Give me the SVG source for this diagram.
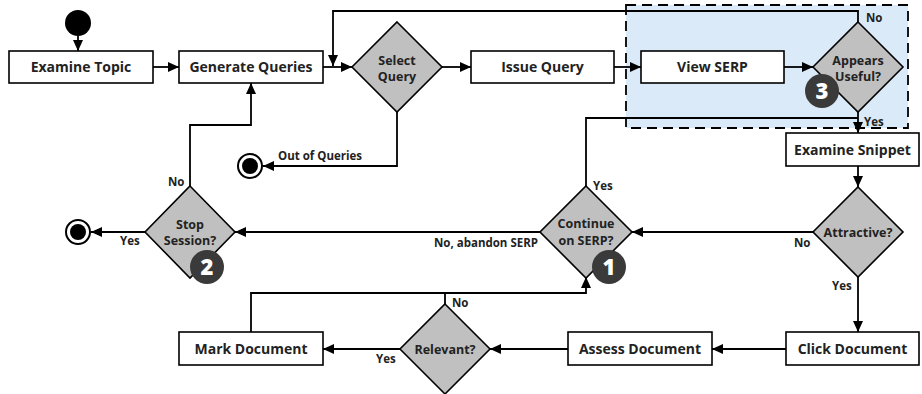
<svg xmlns="http://www.w3.org/2000/svg" width="922" height="394" viewBox="0 0 922 394">
<style>
.box{fill:#ffffff;stroke:#000;stroke-width:1.6}
.dia{fill:#c0c0c0;stroke:#000;stroke-width:1.6}
.t{font-family:"Open Sans","Liberation Sans",sans-serif;font-weight:700;font-size:14px;fill:#222;text-anchor:middle}
.d{font-family:"Open Sans","Liberation Sans",sans-serif;font-weight:700;font-size:12.5px;fill:#222;text-anchor:middle}
.l{font-family:"Open Sans","Liberation Sans",sans-serif;font-weight:700;font-size:11.5px;fill:#222}
.c{fill:none;stroke:#000;stroke-width:1.8}
.badge{fill:#3a3a3a}
.bn{font-family:"Open Sans","Liberation Sans",sans-serif;font-weight:800;font-size:22px;fill:#fff;text-anchor:middle}
</style>
<defs>
<marker id="ah" markerUnits="userSpaceOnUse" markerWidth="11" markerHeight="10" refX="11" refY="5" orient="auto">
<path d="M0,0 L11,5 L0,10 z" fill="#000"/>
</marker>
</defs>
<rect width="922" height="394" fill="#ffffff"/>
<g id="serp-region">
<rect x="626" y="5" width="282" height="123" fill="#dbeaf9" stroke="#000" stroke-width="1.8" stroke-dasharray="10,6"/>
</g>
<g id="connectors">
<path class="c" d="M78,36 V51" marker-end="url(#ah)"/>
<path class="c" d="M153,67 H179" marker-end="url(#ah)"/>
<path class="c" d="M323,67 H352" marker-end="url(#ah)"/>
<path class="c" d="M442,67 H471" marker-end="url(#ah)"/>
<path class="c" d="M614,67 H641" marker-end="url(#ah)"/>
<path class="c" d="M784,67 H813" marker-end="url(#ah)"/>
<path class="c" d="M858,22 V11 H333 V66" marker-end="url(#ah)"/>
<path class="c" d="M858,112 V133" marker-end="url(#ah)"/>
<path class="c" d="M586,186 V118 H858"/>
<path class="c" d="M858,166 V187" marker-end="url(#ah)"/>
<path class="c" d="M813,232 H632" marker-end="url(#ah)"/>
<path class="c" d="M540,232 H235" marker-end="url(#ah)"/>
<path class="c" d="M145,232 H91" marker-end="url(#ah)"/>
<path class="c" d="M190,186 V125 H251 V83" marker-end="url(#ah)"/>
<path class="c" d="M397,112 V166 H263" marker-end="url(#ah)"/>
<path class="c" d="M858,277 V332" marker-end="url(#ah)"/>
<path class="c" d="M786,349 H712" marker-end="url(#ah)"/>
<path class="c" d="M568,349 H490" marker-end="url(#ah)"/>
<path class="c" d="M400,349 H323" marker-end="url(#ah)"/>
<path class="c" d="M445,304 V293 H586 V277" marker-end="url(#ah)"/>
<path class="c" d="M251,332 V293 H445"/>
<text class="l" x="866" y="22">No</text>
<text class="l" x="864" y="126">Yes</text>
<text class="l" x="593" y="190">Yes</text>
<text class="l" x="538" y="247" text-anchor="end">No, abandon SERP</text>
<text class="l" x="794" y="247">No</text>
<text class="l" x="832" y="290">Yes</text>
<text class="l" x="452" y="307">No</text>
<text class="l" x="376" y="363">Yes</text>
<text class="l" x="120" y="245">Yes</text>
<text class="l" x="168" y="186">No</text>
<text class="l" x="278" y="160">Out of Queries</text>
</g>
<g id="start"><circle cx="78" cy="23" r="13" fill="#000"/></g>
<g id="examine-topic"><rect class="box" x="9" y="51" width="144" height="32"/><text class="t" x="81" y="72">Examine Topic</text></g>
<g id="generate-queries"><rect class="box" x="179" y="51" width="144" height="32"/><text class="t" x="251" y="72">Generate Queries</text></g>
<g id="select-query"><path class="dia" d="M397,22 L442,67 L397,112 L352,67 z"/><text class="d" x="397" y="65">Select</text><text class="d" x="397" y="81">Query</text></g>
<g id="issue-query"><rect class="box" x="471" y="51" width="143" height="32"/><text class="t" x="542.5" y="72">Issue Query</text></g>
<g id="view-serp"><rect class="box" x="641" y="51" width="143" height="32"/><text class="t" x="712.5" y="72">View SERP</text></g>
<g id="appears-useful"><path class="dia" d="M858,22 L903,67 L858,112 L813,67 z"/><text class="d" x="858" y="65">Appears</text><text class="d" x="858" y="81">Useful?</text><circle class="badge" cx="822" cy="91" r="17"/><text class="bn" x="822" y="99">3</text></g>
<g id="examine-snippet"><rect class="box" x="786" y="133" width="133" height="33"/><text class="t" x="852.5" y="154.5">Examine Snippet</text></g>
<g id="attractive"><path class="dia" d="M858,187 L903,232 L858,277 L813,232 z"/><text class="d" x="858" y="237">Attractive?</text></g>
<g id="continue-serp"><path class="dia" d="M586,186 L632,232 L586,278 L540,232 z"/><text class="d" x="586" y="228">Continue</text><text class="d" x="586" y="245">on SERP?</text><circle class="badge" cx="609" cy="267" r="17"/><text class="bn" x="609" y="275">1</text></g>
<g id="stop-session"><path class="dia" d="M190,186 L235,232 L190,278 L145,232 z"/><text class="d" x="190" y="229">Stop</text><text class="d" x="190" y="245">Session?</text><circle class="badge" cx="207" cy="267" r="17"/><text class="bn" x="207" y="275">2</text></g>
<g id="end-session"><circle cx="78" cy="232" r="12" fill="#fff" stroke="#000" stroke-width="2"/><circle cx="78" cy="232" r="8" fill="#000"/></g>
<g id="end-queries"><circle cx="250" cy="166" r="12" fill="#fff" stroke="#000" stroke-width="2"/><circle cx="250" cy="166" r="8" fill="#000"/></g>
<g id="click-document"><rect class="box" x="786" y="332" width="133" height="33"/><text class="t" x="852.5" y="354">Click Document</text></g>
<g id="assess-document"><rect class="box" x="568" y="332" width="144" height="33"/><text class="t" x="640" y="354">Assess Document</text></g>
<g id="relevant"><path class="dia" d="M445,304 L490,349 L445,394 L400,349 z"/><text class="d" x="445" y="353.5">Relevant?</text></g>
<g id="mark-document"><rect class="box" x="179" y="332" width="144" height="33"/><text class="t" x="251" y="354">Mark Document</text></g>
</svg>
